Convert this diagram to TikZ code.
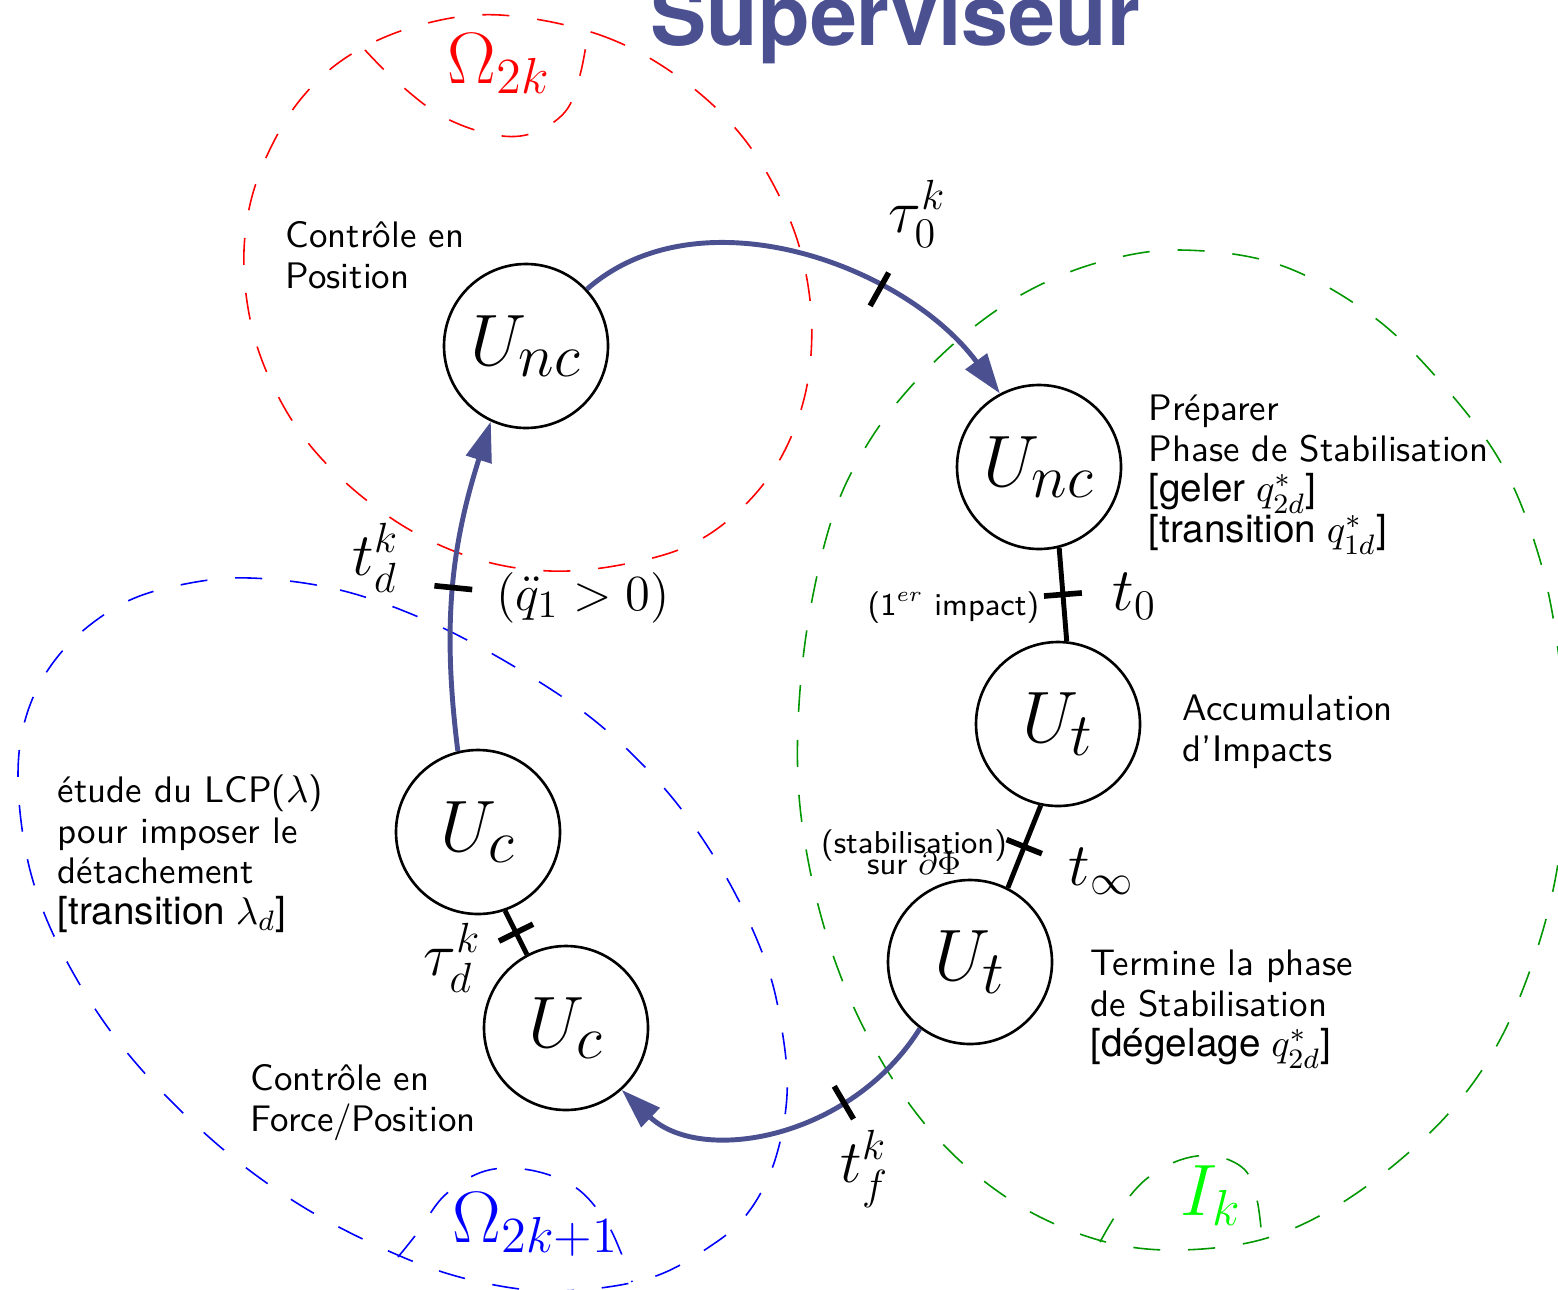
\documentclass[tikz,border=0pt]{standalone}
\usepackage{amsmath,amssymb}
\usepackage{fontspec}
\newfontfamily\helv{TeX Gyre Heros}
\usepackage{tikz}
\usetikzlibrary{positioning,arrows.meta,decorations.markings}
\definecolor{supblue}{RGB}{75,80,145}
\definecolor{zonegreen}{RGB}{0,150,0}
\DeclareMathSizes{22}{22}{19}{14}
\newcommand\hbrack[1]{{\helv\fontsize{11}{11.6}\selectfont[#1]}}
\begin{document}
\begin{tikzpicture}[
  x=0.1mm, y=-0.1mm,
  ctrl/.style={circle, draw, line width=0.75pt, minimum size=16.4mm, inner sep=0pt, font=\fontsize{22}{26}\selectfont},
  txt/.style={font=\sffamily\fontsize{10.5}{11.6}\selectfont, align=left, inner sep=0pt, anchor=north west},
  smalltxt/.style={font=\sffamily\fontsize{9}{10}\selectfont, inner sep=0pt},
  lbl/.style={font=\fontsize{17.5}{20}\selectfont, inner sep=0pt, anchor=base west},
  biglbl/.style={lbl, font=\fontsize{20}{24}\selectfont},
  zone/.style={dash pattern=on 2.7mm off 2.8mm, line width=0.45pt},
  flow/.style={supblue, line width=1.4pt, -{Triangle[length=4mm, width=2.6mm]}},
  link/.style={line width=1.4pt},
  tmark/.style={postaction={decorate, decoration={markings, mark=at position #1 with {\draw[black, line width=1.6pt, -] (0,-19) -- (0,19);}}}}]
\useasboundingbox (0,0) rectangle (1558,1289);
\draw[zone, red] plot[smooth cycle, tension=.6] coordinates {(500,15) (600,35) (680,78) (745,140) (790,220) (810,300) (808,380) (785,450) (745,505) (690,545) (620,565) (550,571) (480,560) (410,530) (345,482) (295,425) (260,355) (245,285) (247,220) (265,160) (300,100) (350,55) (420,25)};
\draw[zone, red] plot[smooth, tension=.6] coordinates {(365,50) (395,80) (440,115) (490,134) (530,134) (565,112) (580,75) (588,32)};
\draw[zone, blue] plot[smooth cycle, tension=.6] coordinates {(250,578) (340,590) (430,622) (520,670) (600,725) (670,795) (725,875) (765,960) (782,1030) (787,1095) (775,1160) (750,1210) (715,1243) (650,1278) (560,1291) (480,1282) (400,1256) (300,1205) (210,1138) (125,1050) (65,958) (30,870) (18,775) (30,705) (65,648) (120,605) (180,585)};
\draw[zone, blue] plot[smooth, tension=.6] coordinates {(398,1257) (418,1232) (445,1195) (485,1171) (530,1170) (575,1187) (605,1220) (622,1255) (632,1282)};
\draw[zone, zonegreen] plot[smooth cycle, tension=.6] coordinates {(1180,250) (1280,265) (1375,318) (1450,393) (1505,470) (1540,560) (1558,650) (1566,750) (1560,850) (1540,940) (1505,1030) (1460,1100) (1400,1160) (1330,1210) (1260,1240) (1180,1250) (1110,1243) (1040,1217) (980,1178) (930,1130) (890,1075) (855,1010) (828,940) (808,860) (798,780) (800,690) (812,600) (835,510) (870,440) (915,382) (970,330) (1030,290) (1100,262)};
\draw[zone, zonegreen] plot[smooth, tension=.6] coordinates {(1100,1242) (1118,1212) (1145,1180) (1180,1160) (1215,1156) (1245,1170) (1257,1200) (1262,1239)};
\node[ctrl] (ncpos) at (526,346) {$U_{nc}$};
\node[ctrl] (ncprep) at (1039,467) {$U_{nc}$};
\node[ctrl] (tacc) at (1058,724) {$U_t$};
\node[ctrl] (tend) at (970,962) {$U_t$};
\node[ctrl] (cdet) at (478,832) {$U_c$};
\node[ctrl] (cfp) at (566,1028) {$U_c$};
\draw[flow, tmark=.66] (ncpos.43) .. controls (700,190) and (905,265) .. (ncprep.118);
\draw[flow, tmark=.31] (tend.233) .. controls (850,1140) and (700,1165) .. (cfp.-48);
\draw[flow, tmark=.49] (cdet.104) .. controls (442,625) and (451,547) .. (ncpos.245);
\foreach \a/\b in {ncprep.-76/tacc.84, tacc.258/tend.63, cdet.-71/cfp.118} \draw[link, tmark=.5] (\a) -- (\b);
\node[lbl, font=\helv\bfseries\fontsize{24}{28}\selectfont, supblue] (title) at (650,45) {Superviseur};
\node[biglbl, red] (om2k) at (447,83) {$\Omega_{2k}$};
\node[biglbl, blue] (om2k1) at (452,1242) {$\Omega_{2k+1}$};
\node[biglbl, green] (ik) at (1180,1215) {$I_k$};
\node[txt] (posnote) at (285,221) {Contrôle en\\Position};
\node[txt] (prepnote) at (1148,394) {Préparer\\Phase de Stabilisation\\\hbrack{geler $q^*_{2d}$}\\\hbrack{transition $q^*_{1d}$}};
\node[txt] (accnote) at (1182,694) {Accumulation\\d’Impacts};
\node[txt] (endnote) at (1090,949) {Termine la phase\\de Stabilisation\\\hbrack{dégelage $q^*_{2d}$}};
\node[txt] (detnote) at (57,774) {étude du LCP($\lambda$)\\pour imposer le\\détachement\\\hbrack{transition $\lambda_d$}};
\node[txt] (fpnote) at (250,1064) {Contrôle en\\Force/Position};
\node[smalltxt, anchor=base east] (impact) at (1040,615) {(1$^{er}$ impact)};
\node[smalltxt, align=center, anchor=north] (stab) at (914,829) {(stabilisation)\\[-4pt]sur $\partial\Phi$};
\node[lbl] (tau0) at (888,232) {$\tau_0^k$};
\node[lbl] (tdk) at (352,575) {$t_d^k$};
\node[lbl, font=\fontsize{15.4}{18}\selectfont] (cond) at (496,610) {$(\ddot q_1 > 0)$};
\node[lbl] (t0) at (1112,610) {$t_0$};
\node[lbl] (tinf) at (1068,885) {$t_\infty$};
\node[lbl] (tfk) at (840,1182) {$t_f^k$};
\node[lbl] (taudk) at (423,975) {$\tau_d^k$};
\end{tikzpicture}
\end{document}
